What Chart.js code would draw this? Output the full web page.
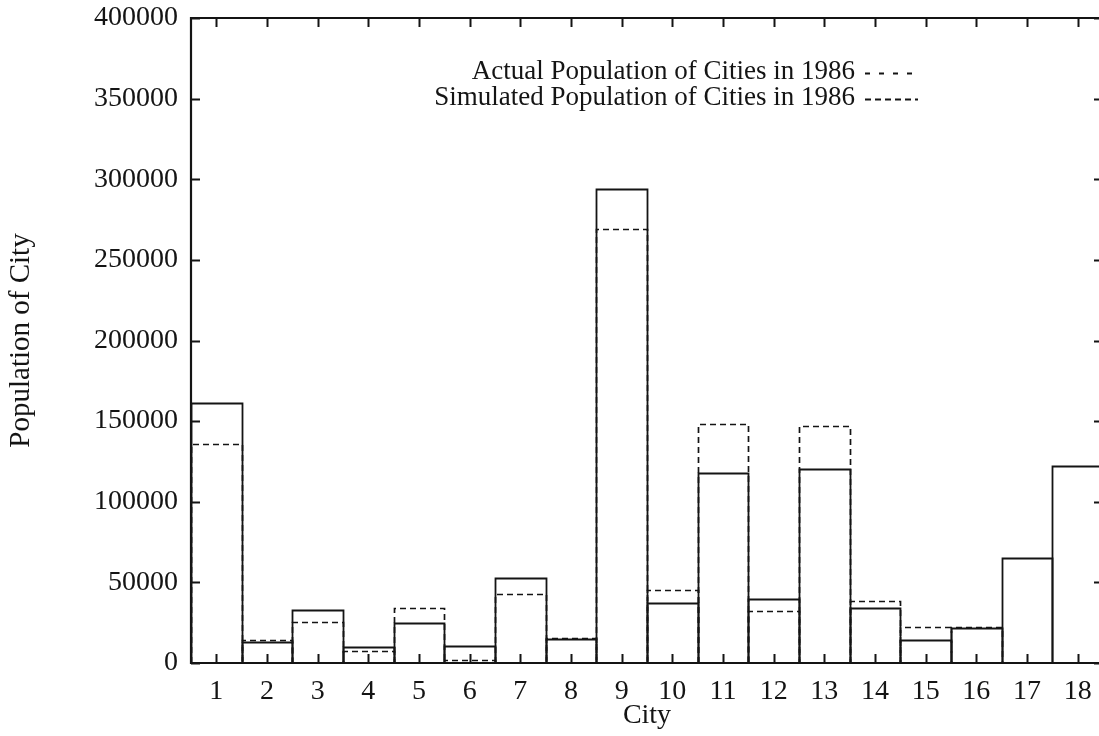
<!DOCTYPE html>
<html lang="en">
  <head>
    <meta charset="UTF-8" />
    <title>Population of Cities in 1986</title>
    <script src="https://cdn.jsdelivr.net/npm/chart.js"></script>
    <style>
      html, body {
        margin: 0;
        padding: 0;
        background: #ffffff;
        overflow: hidden;
      }

      .chart-container {
        position: relative;
        width: 1104px;
        height: 736px;
      }
    </style>
  </head>
  <body>
    <div class="chart-container">
      <canvas id="popChart"></canvas>
    </div>

    <script>
      // data
      const cities = ["1", "2", "3", "4", "5", "6", "7", "8", "9", "10", "11", "12", "13", "14", "15", "16", "17", "18"];
      const actualPop = [161000, 13000, 33000, 10000, 24500, 10500, 53000, 15000, 294000, 37500, 118000, 40000, 120000, 34000, 14500, 21500, 65000, 122000];
      const simulatedPop = [136000, 14000, 25500, 7500, 34000, 2000, 42500, 15500, 269000, 45500, 148000, 32000, 147000, 38500, 22500, 22500, 0, 0];
      const yTicks = [0, 50000, 100000, 150000, 200000, 250000, 300000, 350000, 400000];
      const seriesNames = ["Actual Population of Cities in 1986", "Simulated Population of Cities in 1986"];

      const ink = "#141414";
      const serif = "'Liberation Serif', 'DejaVu Serif', serif";

      // outline every box like gnuplot "boxes", solid or dashed
      const boxOutline = {
        id: "boxOutline",
        afterDatasetsDraw(chart) {
          const ctx = chart.ctx;
          const area = chart.chartArea;
          ctx.save();
          ctx.beginPath();
          ctx.rect(area.left - 2, area.top - 2, area.right - area.left + 4, area.bottom - area.top + 4);
          ctx.clip();
          chart.data.datasets.forEach((ds, i) => {
            const meta = chart.getDatasetMeta(i);
            ctx.strokeStyle = ink;
            ctx.lineWidth = ds.outlineWidth;
            ctx.setLineDash(ds.outlineDash);
            meta.data.forEach((bar) => {
              const p = bar.getProps(["x", "y", "base", "width"], true);
              if (p.base - p.y < 0.5) return;
              const l = Math.round(p.x - p.width / 2) + 0.5;
              const r = Math.round(p.x + p.width / 2) + 0.5;
              const t = Math.round(p.y) + 0.5;
              ctx.beginPath();
              ctx.moveTo(l, p.base);
              ctx.lineTo(l, t);
              ctx.lineTo(r, t);
              ctx.lineTo(r, p.base);
              ctx.stroke();
            });
          });
          ctx.restore();
        },
      };

      // frame with inward tick marks on all four sides, plus the key
      const frameAndKey = {
        id: "frameAndKey",
        afterDraw(chart) {
          const ctx = chart.ctx;
          const { left, right, top, bottom } = chart.chartArea;
          const xs = chart.scales.x;
          const ys = chart.scales.y;
          const tick = 9;
          ctx.save();
          ctx.strokeStyle = ink;
          ctx.lineWidth = 2.2;
          ctx.setLineDash([]);
          ctx.beginPath();
          ctx.moveTo(right, top);
          ctx.lineTo(left, top);
          ctx.lineTo(left, bottom);
          ctx.lineTo(right, bottom);
          ctx.lineTo(right, top);
          ctx.stroke();

          ctx.lineWidth = 2;
          ctx.beginPath();
          cities.forEach((c, i) => {
            const x = Math.round(xs.getPixelForValue(i)) + 0.5;
            ctx.moveTo(x, bottom);
            ctx.lineTo(x, bottom - tick);
            ctx.moveTo(x, top);
            ctx.lineTo(x, top + tick);
          });
          yTicks.forEach((v) => {
            const y = Math.round(ys.getPixelForValue(v)) + 0.5;
            ctx.moveTo(left, y);
            ctx.lineTo(left + tick, y);
            ctx.moveTo(right, y);
            ctx.lineTo(right - tick, y);
          });
          ctx.stroke();

          // key: text right aligned, line sample to its right
          ctx.font = "27px " + serif;
          ctx.fillStyle = ink;
          ctx.textAlign = "right";
          ctx.textBaseline = "middle";
          const keyDash = [[5, 9], [6, 4]];
          const keyY = [72, 98];
          seriesNames.forEach((name, i) => {
            ctx.fillText(name, 855, keyY[i]);
            ctx.lineWidth = 1.8;
            ctx.setLineDash(keyDash[i]);
            ctx.beginPath();
            ctx.moveTo(865, keyY[i] + 1.5);
            ctx.lineTo(918, keyY[i] + 1.5);
            ctx.stroke();
          });
          ctx.restore();
        },
      };

      const ctx = document.getElementById("popChart").getContext("2d");

      new Chart(ctx, {
        type: "bar",
        data: {
          labels: cities,
          datasets: [
            {
              label: seriesNames[0],
              data: actualPop,
              backgroundColor: "transparent",
              borderWidth: 0,
              grouped: false,
              categoryPercentage: 1,
              barPercentage: 1,
              outlineDash: [],
              outlineWidth: 1.8,
            },
            {
              label: seriesNames[1],
              data: simulatedPop,
              backgroundColor: "transparent",
              borderWidth: 0,
              grouped: false,
              categoryPercentage: 1,
              barPercentage: 1,
              outlineDash: [6, 4],
              outlineWidth: 1.7,
            },
          ],
        },
        options: {
          responsive: true,
          maintainAspectRatio: false,
          animation: false,
          layout: { padding: { top: 18, right: 1, left: 0, bottom: 0 } },
          plugins: {
            legend: { display: false },
            tooltip: { enabled: false },
          },
          scales: {
            x: {
              offset: true,
              grid: { display: false, drawTicks: false },
              border: { display: false },
              ticks: {
                color: ink,
                padding: 12,
                maxRotation: 0,
                autoSkip: false,
                font: { family: serif, size: 28 },
              },
              title: {
                display: true,
                text: "City",
                color: ink,
                padding: { top: 0, bottom: 4 },
                font: { family: serif, size: 28 },
              },
              afterFit(scale) {
                scale.height = 73;
              },
            },
            y: {
              min: 0,
              max: 400000,
              grid: { display: false, drawTicks: false },
              border: { display: false },
              afterBuildTicks(scale) {
                scale.ticks = yTicks.map((v) => ({ value: v }));
              },
              ticks: {
                color: ink,
                padding: 13,
                font: { family: serif, size: 28 },
                callback: (v) => String(v),
              },
              title: {
                display: true,
                text: "Population of City",
                color: ink,
                padding: { top: 4, bottom: 0 },
                font: { family: serif, size: 29 },
              },
              afterFit(scale) {
                scale.width = 191;
                scale.paddingTop = 0;
                scale.paddingBottom = 0;
              },
            },
          },
        },
        plugins: [boxOutline, frameAndKey],
      });
    </script>
  </body>
</html>
